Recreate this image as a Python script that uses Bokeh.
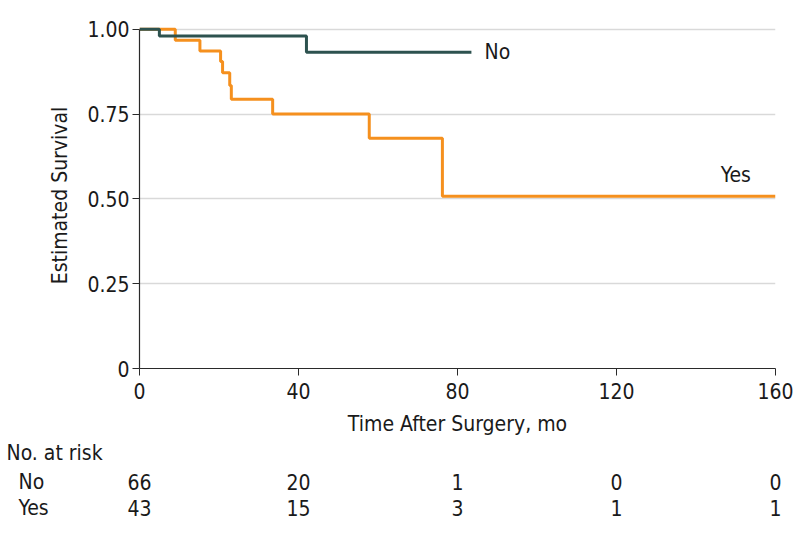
from bokeh.plotting import figure
from bokeh.layouts import column, row
from bokeh.models import Range1d, FixedTicker, ColumnDataSource, Label
from bokeh.core.properties import value
from bokeh.embed import file_html
from bokeh.resources import INLINE

# ---- data ----
no_time = [0, 5, 42, 83.5]
no_surv = [1.0, 0.980, 0.932, 0.932]
yes_time = [0, 9, 15.2, 20.4, 20.9, 22.7, 23.1, 33.5, 57.8, 76.2, 160]
yes_surv = [1.0, 0.968, 0.936, 0.905, 0.872, 0.834, 0.794, 0.750, 0.679, 0.508, 0.508]
risk_times = [0, 40, 80, 120, 160]
risk_no = [66, 20, 1, 0, 0]
risk_yes = [43, 15, 3, 1, 1]
risk_groups = ["No", "Yes"]
x_ticks = [0, 40, 80, 120, 160]
y_ticks = [0, 0.25, 0.5, 0.75, 1.0]
y_tick_labels = ["0", "0.25", "0.50", "0.75", "1.00"]

FONT = "DejaVu Sans Condensed"
FS = "21px"
TEAL = "#2d524f"
ORANGE = "#f5901e"
TXT = "#1a1a1a"

W = 794
LEFT = 139
PX_PER_MO = 636 / 160.0

p = figure(width=W, height=440, output_backend="svg", toolbar_location=None,
           x_range=Range1d(0, 160), y_range=Range1d(0, 1.02),
           min_border_left=LEFT, min_border_right=19, min_border_top=22,
           min_border_bottom=72)
p.outline_line_color = None
p.background_fill_color = "white"

p.xgrid.grid_line_color = None
p.ygrid.ticker = FixedTicker(ticks=[0.25, 0.5, 0.75, 1.0])
p.ygrid.grid_line_color = "#d9d9d9"
p.ygrid.grid_line_width = 1.5

for ax in (p.xaxis[0], p.yaxis[0]):
    ax.axis_line_color = "#2a2a2a"
    ax.axis_line_width = 1.2
    ax.major_tick_line_color = "#2a2a2a"
    ax.major_tick_in = 0
    ax.major_tick_out = 7
    ax.minor_tick_line_color = None
    ax.major_label_text_font = FONT
    ax.major_label_text_font_size = FS
    ax.major_label_text_color = TXT
    ax.axis_label_text_font = FONT
    ax.axis_label_text_font_size = FS
    ax.axis_label_text_font_style = "normal"
    ax.axis_label_text_color = TXT

p.xaxis.ticker = FixedTicker(ticks=x_ticks)
p.yaxis.ticker = FixedTicker(ticks=y_ticks)
p.yaxis.major_label_overrides = {t: l for t, l in zip(y_ticks, y_tick_labels)}
p.yaxis.bounds = (0, 1.0)
p.xaxis.axis_label = "Time After Surgery, mo"
p.yaxis.axis_label = "Estimated Survival"
p.xaxis.major_label_standoff = 7
p.xaxis.axis_label_standoff = 10
p.yaxis.major_label_standoff = 3
p.yaxis.axis_label_standoff = 12

p.step(yes_time, yes_surv, mode="after", line_color=ORANGE, line_width=3)
p.step(no_time, no_surv, mode="after", line_color=TEAL, line_width=3)

p.add_layout(Label(x=86.8, y=no_surv[-1], text="No", text_font=FONT, text_font_size=FS,
                   text_color=TXT, text_baseline="middle", text_align="left"))
p.add_layout(Label(x=150, y=0.569, text="Yes", text_font=FONT, text_font_size=FS,
                   text_color=TXT, text_baseline="middle", text_align="center"))

# ---- risk table (second figure, pixel rows from the top) ----
TH = 95
t = figure(width=W, height=TH, output_backend="svg", toolbar_location=None,
           x_range=Range1d(-LEFT / PX_PER_MO, (W - LEFT) / PX_PER_MO),
           y_range=Range1d(TH, 0),
           min_border_left=0, min_border_right=0, min_border_top=0, min_border_bottom=0)
t.axis.visible = False
t.grid.visible = False
t.outline_line_color = None

row_y = [41, 67]
t.text(x=[(6 - LEFT) / PX_PER_MO], y=[12], text=["No. at risk"],
       text_font=value(FONT), text_font_size=FS, text_color=TXT,
       text_baseline="middle", text_align="left")
t.text(x=[(18 - LEFT) / PX_PER_MO] * 2, y=row_y, text=risk_groups,
       text_font=value(FONT), text_font_size=FS, text_color=TXT,
       text_baseline="middle", text_align="left")
for vals, yy in ((risk_no, row_y[0]), (risk_yes, row_y[1])):
    src = ColumnDataSource(dict(x=risk_times, y=[yy] * len(vals), t=[str(v) for v in vals]))
    t.text(x="x", y="y", text="t", source=src, text_font=value(FONT),
           text_font_size=FS, text_color=TXT, text_baseline="middle", text_align="center")

layout = column(p, row(t, spacing=0), spacing=0)
open("out.html", "w").write(file_html(layout, INLINE))
